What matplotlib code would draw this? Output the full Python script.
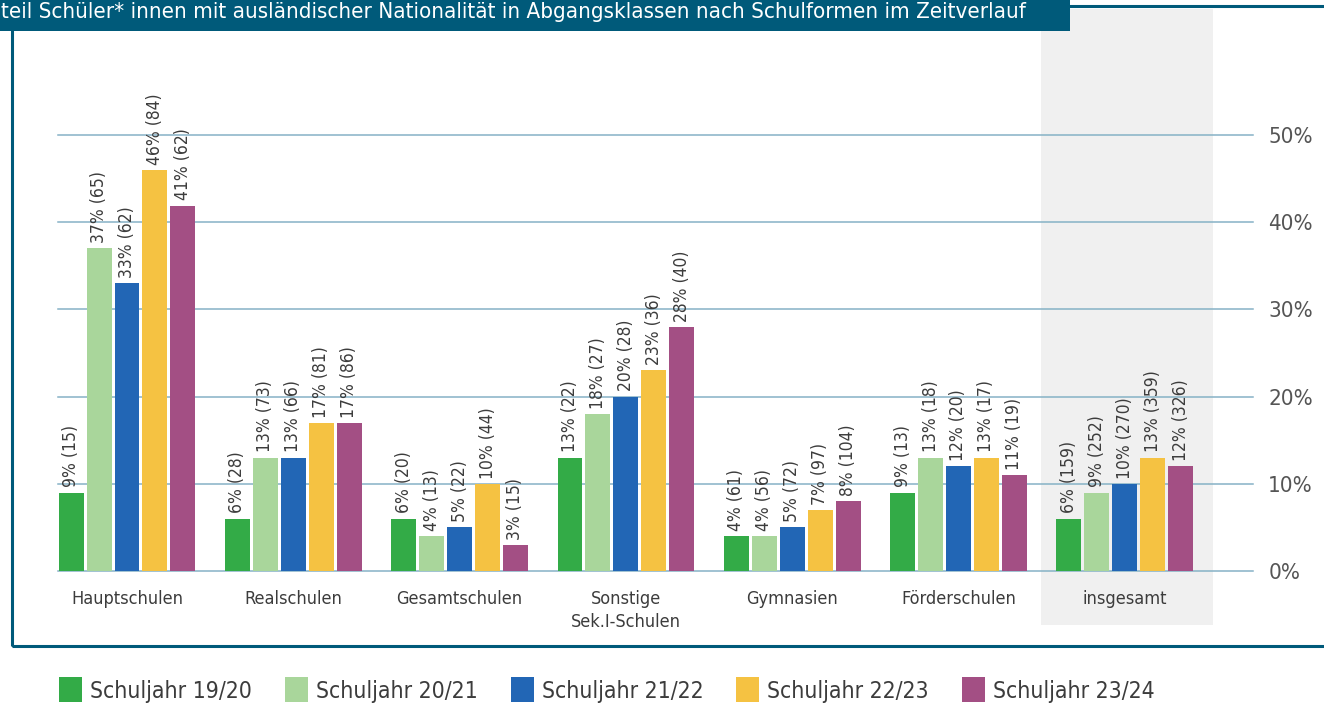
import numpy as np
import matplotlib
matplotlib.use('Agg')
from matplotlib import pyplot as plt
from matplotlib.patches import Rectangle, Patch

plt.rcParams['font.family'] = ['DejaVu Sans']
plt.rcParams['font.stretch'] = 'condensed'

# data
categories = ['Hauptschulen', 'Realschulen', 'Gesamtschulen', 'Sonstige\nSek.I-Schulen',
              'Gymnasien', 'Förderschulen', 'insgesamt']
years = ['Schuljahr 19/20', 'Schuljahr 20/21', 'Schuljahr 21/22', 'Schuljahr 22/23', 'Schuljahr 23/24']
colors = ['#33ab47', '#a9d69b', '#2266b5', '#f5c242', '#a34f84']

share_1920 = [9, 6, 6, 13, 4, 9, 6]
share_2021 = [37, 13, 4, 18, 4, 13, 9]
share_2122 = [33, 13, 5, 20, 5, 12, 10]
share_2223 = [46, 17, 10, 23, 7, 13, 13]
share_2324 = [41.9, 17, 3, 28, 8, 11, 12]

pct_1920 = [9, 6, 6, 13, 4, 9, 6]
pct_2021 = [37, 13, 4, 18, 4, 13, 9]
pct_2122 = [33, 13, 5, 20, 5, 12, 10]
pct_2223 = [46, 17, 10, 23, 7, 13, 13]
pct_2324 = [41, 17, 3, 28, 8, 11, 12]

n_1920 = [15, 28, 20, 22, 61, 13, 159]
n_2021 = [65, 73, 13, 27, 56, 18, 252]
n_2122 = [62, 66, 22, 28, 72, 20, 270]
n_2223 = [84, 81, 44, 36, 97, 17, 359]
n_2324 = [62, 86, 15, 40, 104, 19, 326]

shares = [share_1920, share_2021, share_2122, share_2223, share_2324]
pcts = [pct_1920, pct_2021, pct_2122, pct_2223, pct_2324]
counts = [n_1920, n_2021, n_2122, n_2223, n_2324]

W, H = 1324, 708
fig = plt.figure(figsize=(W / 100, H / 100), dpi=100)

teal = '#005a7a'
txt = '#3c3c3c'

# frame
fig.patches.append(Rectangle((12 / W, 1 - 646 / H), 1.2, (646 - 6) / H, transform=fig.transFigure,
                             fill=False, edgecolor=teal, lw=2.2, zorder=0))
# title tab
fig.patches.append(Rectangle((0, 1 - 31 / H), 1070 / W, 31 / H, transform=fig.transFigure,
                             facecolor=teal, edgecolor='none', zorder=5))
fig.text(1 / W, 1 - 12 / H,
         'teil Schüler* innen mit ausländischer Nationalität in Abgangsklassen nach Schulformen im Zeitverlauf',
         color='white', fontsize=16, va='center', ha='left', zorder=6)

# axes
x0 = -0.415
x1 = 6.771
ax = fig.add_axes([58 / W, 1 - 571 / H, (1253 - 58) / W, (571 - 135) / H])
ax.set_xlim(x0, x1)
ax.set_ylim(0, 50)

x = np.arange(len(categories))
# shaded total column
ax.axvspan(5.496, 6.530, ymin=-0.124, ymax=1.29, color='#f0f0f0', zorder=0, clip_on=False, lw=0)

for yv in range(0, 60, 10):
    ax.axhline(yv, color='#86b2c6', lw=1.1, zorder=1, clip_on=False)

slot = 0.168
width = 0.15
for j in range(5):
    xs = x + (j - 2) * slot
    ax.bar(xs, shares[j], width=width, color=colors[j], zorder=2)
    for k in range(len(categories)):
        ax.text(xs[k], shares[j][k] + 0.6, '%d%% (%d)' % (pcts[j][k], counts[j][k]),
                rotation=90, ha='center', va='bottom', fontsize=12.5, color=txt, zorder=3)

for s in ax.spines.values():
    s.set_visible(False)
ax.yaxis.tick_right()
ax.set_yticks(range(0, 60, 10))
ax.set_yticklabels(['0%', '10%', '20%', '30%', '40%', '50%'])
ax.tick_params(axis='y', length=0, pad=11, labelsize=16, labelcolor='#555555')
ax.set_xticks(x)
ax.set_xticklabels(categories, linespacing=1.3)
ax.tick_params(axis='x', length=0, pad=14, labelsize=13, labelcolor=txt)
for lab in ax.get_xticklabels():
    lab.set_verticalalignment('top')

# legend
handles = [Patch(facecolor=c, edgecolor='none') for c in colors]
fig.legend(handles, years, loc='center left', bbox_to_anchor=(38 / W, 1 - 690 / H), ncol=5,
           frameon=False, handlelength=1.0, handleheight=1.3, handletextpad=0.35,
           columnspacing=1.45, fontsize=16.5, labelcolor=txt)

plt.savefig('out.png', dpi=100)
